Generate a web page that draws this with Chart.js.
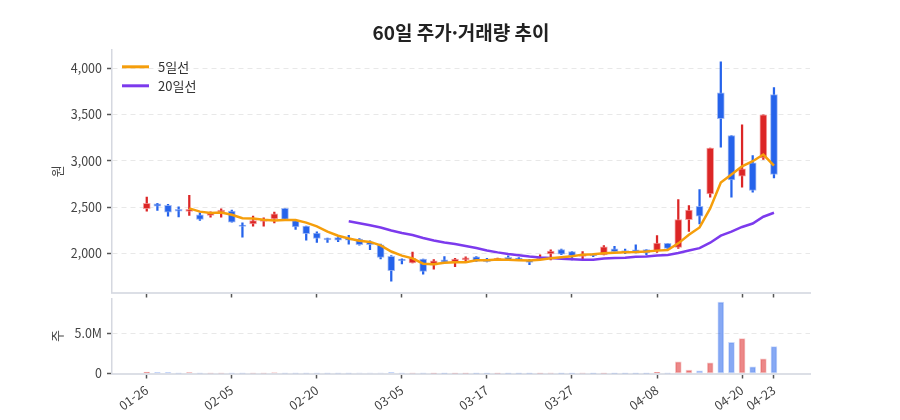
<!DOCTYPE html>
<html lang="ko">
<head>
<meta charset="utf-8">
<script src="https://cdn.jsdelivr.net/npm/chart.js@4.4.1/dist/chart.umd.min.js"></script>
<style>
  html, body { margin: 0; padding: 0; background: #fff; }
  #wrap { position: relative; width: 900px; height: 420px; }
  #priceBox { position: absolute; left: 0; top: 0; width: 900px; height: 305px; }
  #volBox { position: absolute; left: 0; top: 286px; width: 900px; height: 134px; }
</style>
</head>
<body>
<div id="wrap">
  <div id="priceBox"><canvas id="priceChart"></canvas></div>
  <div id="volBox"><canvas id="volChart"></canvas></div>
</div>
<script>
// 거래일 (60일)
const dates = [
  "01-26","01-27","01-28","01-29","01-30","02-02","02-03","02-04","02-05","02-06",
  "02-09","02-10","02-11","02-12","02-13","02-19","02-20","02-23","02-24","02-25",
  "02-26","02-27","03-03","03-04","03-05","03-06","03-09","03-10","03-11","03-12",
  "03-13","03-16","03-17","03-18","03-19","03-20","03-23","03-24","03-25","03-26",
  "03-27","03-30","03-31","04-01","04-02","04-03","04-06","04-07","04-08","04-09",
  "04-10","04-13","04-14","04-15","04-16","04-17","04-20","04-21","04-22","04-23"
];
const tickLabels = ["01-26","02-05","02-20","03-05","03-17","03-27","04-08","04-20","04-23"];

// 시가 / 고가 / 저가 / 종가
const opens = [
  2482,2536,2518,2475,2453,2417,2410,2446,2457,2305,
  2319,2345,2373,2486,2355,2296,2218,2164,2171,2161,
  2154,2125,2093,1968,1939,1896,1939,1872,1930,1910,
  1928,1962,1939,1928,1957,1950,1931,1928,1995,2040,
  2018,1967,1993,1982,2050,2029,2038,2040,2029,2108,
  2065,2365,2509,2643,3736,3274,2834,2978,3032,3715
];
const highs = [
  2608,2540,2529,2504,2627,2439,2449,2482,2467,2330,
  2402,2384,2446,2486,2366,2296,2232,2164,2182,2196,
  2161,2136,2100,1975,1940,2015,1939,1932,1966,1946,
  1962,1966,1945,1950,1972,1955,1935,1984,2038,2046,
  2020,2018,1995,2083,2076,2047,2092,2042,2191,2108,
  2581,2516,2690,3137,4069,3274,3390,3058,3498,3791
];
const lows = [
  2457,2464,2402,2395,2410,2355,2392,2392,2337,2175,
  2294,2294,2330,2366,2258,2143,2118,2118,2125,2100,
  2089,2039,1939,1700,1886,1896,1775,1830,1905,1856,
  1912,1913,1908,1925,1928,1928,1877,1928,1928,1985,
  1928,1939,1964,1982,2015,1996,2006,1982,2011,2040,
  2054,2238,2318,2606,3148,2606,2715,2661,3014,2816
];
const closes = [
  2540,2511,2446,2457,2475,2366,2439,2467,2337,2290,
  2355,2366,2428,2366,2287,2214,2161,2146,2143,2143,
  2093,2093,1957,1814,1921,1945,1806,1920,1905,1939,
  1952,1915,1911,1947,1928,1930,1902,1948,2025,1990,
  1975,1993,1975,2070,2018,2008,2006,2004,2112,2054,
  2365,2469,2401,3137,3455,2794,2913,2679,3498,2852
];
// 거래량 (주)
const volumes = [
  170000,120000,120000,40000,120000,50000,50000,50000,50000,50000,
  40000,40000,80000,30000,50000,50000,50000,30000,30000,40000,
  60000,60000,60000,120000,30000,30000,30000,20000,20000,20000,
  20000,20000,20000,20000,20000,20000,20000,20000,50000,20000,
  20000,50000,20000,20000,20000,20000,20000,20000,150000,30000,
  1460000,420000,330000,1330000,8960000,3920000,4380000,830000,1830000,3380000
];

const UP = "#dc2626", DOWN = "#2563eb";
const UP_V = "rgba(220,38,38,0.55)", DOWN_V = "rgba(37,99,235,0.55)";
const FONT = "'Noto Sans CJK KR', 'Noto Sans', sans-serif";

// 이동평균 (종가 기준)
function movingAvg(arr, n) {
  const out = [];
  for (let i = n - 1; i < arr.length; i++) {
    let s = 0;
    for (let j = i - n + 1; j <= i; j++) s += arr[j];
    out.push({ x: i, y: s / n });
  }
  return out;
}

const isUp = closes.map((c, i) => c >= opens[i]);
const candleColor = isUp.map(u => (u ? UP : DOWN));
const tickIdx = tickLabels.map(t => dates.indexOf(t));

Chart.defaults.font.family = FONT;
Chart.defaults.color = "#444";
Chart.defaults.animation = false;

// 차트 영역 안 좌상단 범례
const maLegend = {
  id: "maLegend",
  afterDraw(chart) {
    const { ctx, chartArea } = chart;
    const items = chart.data.datasets.filter(d => d.type === "line");
    ctx.save();
    ctx.font = "13px " + FONT;
    ctx.textBaseline = "middle";
    items.forEach((d, k) => {
      const x = chartArea.left + 10;
      const y = chartArea.top + 17 + k * 19;
      ctx.strokeStyle = d.borderColor;
      ctx.lineWidth = 3;
      ctx.beginPath();
      ctx.moveTo(x, y);
      ctx.lineTo(x + 27, y);
      ctx.stroke();
      ctx.fillStyle = "#333";
      ctx.fillText(d.label, x + 36, y);
    });
    ctx.restore();
  }
};

function xScale(showLabels) {
  return {
    type: "linear",
    min: -3.27,
    max: 62.39,
    offset: false,
    afterBuildTicks: s => { s.ticks = tickIdx.map(v => ({ value: v })); },
    afterFit: s => { s.height = showLabels ? 46.5 : 8; },
    grid: { offset: false, drawOnChartArea: false, drawTicks: true, tickLength: 5,
            tickColor: "#555", tickWidth: 1.5, tickBorderDash: [] },
    border: { color: "#dcdfe6", width: 2 },
    ticks: {
      display: showLabels, autoSkip: false, minRotation: 35, maxRotation: 35, padding: 4,
      color: "#444", font: { size: 12.5 },
      callback: v => dates[v]
    }
  };
}

function yScale(min, max, ticks, fmt, title) {
  return {
    min: min, max: max,
    afterBuildTicks: s => { s.ticks = ticks.map(v => ({ value: v })); },
    afterFit: s => { s.width = 112; },
    grid: { color: "rgba(0,0,0,0.09)", tickColor: "#555", tickLength: 5, tickWidth: 1.5, tickBorderDash: [] },
    border: { color: "#d5d8e0", width: 1.5, dash: [5, 4] },
    ticks: { padding: 5, color: "#444", font: { size: 12.5 }, callback: fmt },
    title: { display: true, text: title, color: "#444", font: { size: 13 }, padding: { top: 49, bottom: 0 } }
  };
}

new Chart(document.getElementById("priceChart"), {
  type: "bar",
  data: {
    datasets: [
      {
        type: "line", label: "5일선", data: movingAvg(closes, 5),
        borderColor: "#f59e0b", backgroundColor: "#f59e0b", borderWidth: 2.5,
        pointRadius: 0, tension: 0
      },
      {
        type: "line", label: "20일선", data: movingAvg(closes, 20),
        borderColor: "#7c3aed", backgroundColor: "#7c3aed", borderWidth: 2.5,
        pointRadius: 0, tension: 0
      },
      {
        label: "body", data: opens.map((o, i) => ({ x: i, y: [o, closes[i]] })),
        backgroundColor: candleColor, borderColor: isUp.map(u => (u ? "rgba(240,140,140,0.8)" : "rgba(140,170,240,0.8)")),
        borderWidth: 1, borderSkipped: false, barThickness: 7, minBarLength: 1.5, grouped: false
      },
      {
        label: "wick", data: lows.map((l, i) => ({ x: i, y: [l, highs[i]] })),
        backgroundColor: candleColor, borderWidth: 0, barThickness: 1.6, grouped: false
      }
    ]
  },
  options: {
    responsive: true,
    maintainAspectRatio: false,
    layout: { padding: { left: 0, right: 90, top: 0, bottom: 0 } },
    scales: {
      x: xScale(false),
      y: yScale(1577, 4200, [2000, 2500, 3000, 3500, 4000], v => v.toLocaleString("en-US"), "원")
    },
    plugins: {
      title: {
        display: true, text: "60일 주가·거래량 추이", fullSize: false,
        color: "#222", font: { size: 19, weight: "bold" }, padding: { top: 21, bottom: 6 }
      },
      legend: { display: false },
      tooltip: { enabled: false }
    }
  },
  plugins: [maLegend]
});

new Chart(document.getElementById("volChart"), {
  type: "bar",
  data: {
    datasets: [{
      label: "거래량", data: volumes.map((v, i) => ({ x: i, y: v })),
      backgroundColor: isUp.map(u => (u ? UP_V : DOWN_V)),
      borderColor: isUp.map(u => (u ? "rgba(220,38,38,0.25)" : "rgba(37,99,235,0.25)")),
      borderWidth: 1, borderSkipped: false, barThickness: 6
    }]
  },
  options: {
    responsive: true,
    maintainAspectRatio: false,
    layout: { padding: { left: 0, right: 90, top: 4, bottom: 0 } },
    scales: {
      x: xScale(true),
      y: yScale(0, 9410000, [0, 5000000], v => (v === 0 ? "0" : (v / 1e6).toFixed(1) + "M"), "주")
    },
    plugins: { legend: { display: false }, tooltip: { enabled: false } }
  }
});
</script>
</body>
</html>
